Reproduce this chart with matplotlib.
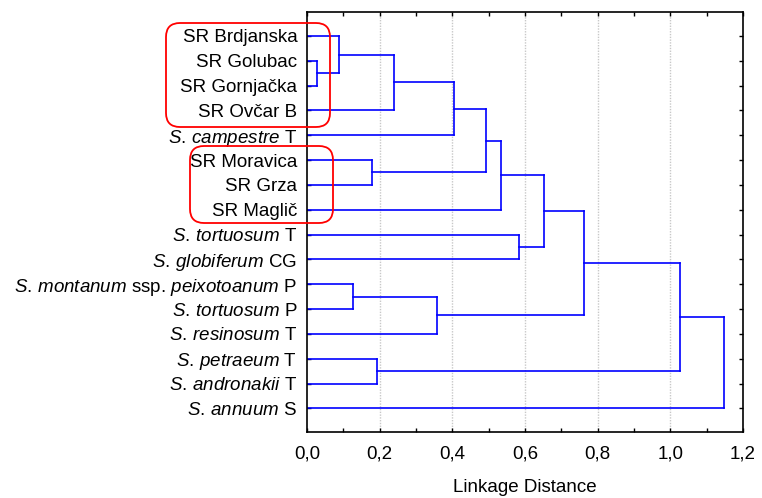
import matplotlib
matplotlib.use("Agg")
import matplotlib.pyplot as plt
from matplotlib.patches import FancyBboxPatch
from matplotlib.ticker import MultipleLocator, FuncFormatter

plt.rcParams['font.family'] = ['Liberation Sans', 'DejaVu Sans']
plt.rcParams['mathtext.fontset'] = 'custom'
plt.rcParams['mathtext.rm'] = 'Liberation Sans'
plt.rcParams['mathtext.it'] = 'Liberation Sans:italic'

# leaf labels, top to bottom
labels = [
    'SR Brdjanska',
    'SR Golubac',
    'SR Gornjačka',
    'SR Ovčar B',
    r'$\mathit{S.\,campestre}$ T',
    'SR Moravica',
    'SR Grza',
    'SR Maglič',
    r'$\mathit{S.\,tortuosum}$ T',
    r'$\mathit{S.\,globiferum}$ CG',
    r'$\mathit{S.\,montanum}$ ssp. $\mathit{peixotoanum}$ P',
    r'$\mathit{S.\,tortuosum}$ P',
    r'$\mathit{S.\,resinosum}$ T',
    r'$\mathit{S.\,petraeum}$ T',
    r'$\mathit{S.\,andronakii}$ T',
    r'$\mathit{S.\,annuum}$ S',
]

# joins: new cluster id = 16 + row index
join_a = [1, 0, 17, 18, 5, 19, 21, 8, 22, 10, 25, 24, 13, 27, 29]
join_b = [2, 16, 3, 4, 6, 20, 7, 9, 23, 11, 12, 26, 14, 28, 15]
join_h = [0.027, 0.089, 0.240, 0.405, 0.179, 0.493, 0.534, 0.584,
          0.651, 0.127, 0.357, 0.761, 0.194, 1.026, 1.148]

fig = plt.figure(figsize=(7.62, 4.98), dpi=100)
ax = fig.add_axes([0.4029, 0.1325, 0.5722, 0.8428])

pos = {i: float(i) for i in range(len(labels))}
height = {i: 0.0 for i in range(len(labels))}
for k, (a, b, h) in enumerate(zip(join_a, join_b, join_h)):
    node = len(labels) + k
    ax.plot([height[a], h], [pos[a], pos[a]], color='#0000ff', lw=1.2)
    ax.plot([height[b], h], [pos[b], pos[b]], color='#0000ff', lw=1.2)
    ax.plot([h, h], [pos[a], pos[b]], color='#0000ff', lw=1.2)
    pos[node] = (pos[a] + pos[b]) / 2
    height[node] = h

ax.set_xlim(0, 1.2)
ax.set_ylim(15.95, -0.95)
ax.set_yticks(range(len(labels)))
ax.set_yticklabels(labels)
ax.xaxis.set_major_locator(MultipleLocator(0.2))
ax.xaxis.set_minor_locator(MultipleLocator(0.1))
ax.xaxis.set_major_formatter(FuncFormatter(lambda v, p: f'{v:.1f}'.replace('.', ',')))
ax.tick_params(axis='both', which='both', direction='in', length=3, width=1,
               top=True, right=True, labelsize=13.5)
ax.tick_params(axis='y', pad=7)
ax.tick_params(axis='x', pad=9.5)
ax.set_xlabel('Linkage Distance', fontsize=13.5, labelpad=12)

for g in [0.2, 0.4, 0.6, 0.8, 1.0]:
    ax.axvline(g, color='#c8c8c8', lw=1, ls=(0, (1, 1)), zorder=0)

for s in ax.spines.values():
    s.set_linewidth(1.2)

# red rounded boxes around SR groups (pixel coords, origin top-left)
for x0, y0, x1, y1 in [(166, 23, 330, 127), (190, 146, 333, 223)]:
    box = FancyBboxPatch((x0 / 100, (498 - y1) / 100), (x1 - x0) / 100, (y1 - y0) / 100,
                         boxstyle='round,pad=0,rounding_size=0.14',
                         transform=fig.dpi_scale_trans, fill=False,
                         edgecolor='#ff0000', lw=1.3, clip_on=False)
    fig.patches.append(box)

fig.savefig('out.png', dpi=100)
